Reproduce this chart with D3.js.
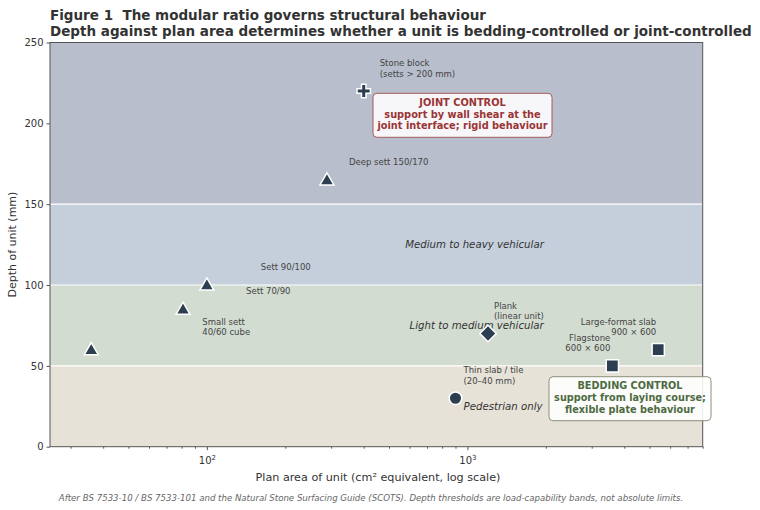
<!DOCTYPE html>
<html>
<head>
<meta charset="utf-8">
<script src="https://cdn.jsdelivr.net/npm/d3@7"></script>
<style>
  body { margin: 0; background: #fff; }
  svg { font-family: "DejaVu Sans", sans-serif; display: block; }
</style>
</head>
<body>
<div id="chart"></div>
<script>
// Units: plan area (cm² equivalent) against depth (mm)
const unitNames = ["Small sett", "Sett 70/90", "Sett 90/100", "Deep sett", "Stone block",
  "Plank", "Thin slab", "Flagstone", "Large-format slab"];
const planArea = [36, 81, 100, 289, 400, 1200, 900, 3600, 5400];
const depth = [60, 85, 100, 165, 220, 70, 30, 50, 60];
const unitShape = ["triangle", "triangle", "triangle", "triangle", "plus",
  "diamond", "circle", "square", "square"];
const unitLabel = [
  ["Small sett", "40/60 cube"],
  ["Sett 70/90"],
  ["Sett 90/100"],
  ["Deep sett 150/170"],
  ["Stone block", "(setts > 200 mm)"],
  ["Plank", "(linear unit)"],
  ["Thin slab / tile", "(20–40 mm)"],
  ["Flagstone", "600 × 600"],
  ["Large-format slab", "900 × 600"]
];

// Load-capability bands
const bandLow = [0, 50, 100, 150];
const bandHigh = [50, 100, 150, 250];
const bandName = ["Pedestrian only", "Light to medium vehicular", "Medium to heavy vehicular", ""];
const bandLabelArea = [1370, 1085, 1065, null];

const yTicks = [0, 50, 100, 150, 200, 250];
const xMajorTicks = [100, 1000];

const width = 760, height = 510;
const marginTop = 42.5, marginRight = 57.3, marginBottom = 63.3, marginLeft = 50;

const bandColor = ["#e6e2d7", "#d3dcd1", "#c4cfdb", "#b8becb"];
const markColor = "#2c3e50";

// label offsets from the marker, in pixels
const labelOffset = [
  [111, -25, "start"], [63, -15, "start"], [54, -15, "start"], [22, -14.5, "start"],
  [16, -25, "start"], [6, -25, "start"], [8, -25, "start"], [-2, -25, "end"], [-2, -25, "end"]
];

const x = d3.scaleLog([25, 8000], [marginLeft, width - marginRight]);
const y = d3.scaleLinear([0, 250], [height - marginBottom, marginTop]);

const svg = d3.select("#chart").append("svg")
    .attr("width", width)
    .attr("height", height)
    .attr("viewBox", [0, 0, width, height]);

// bands
svg.append("g")
  .selectAll("rect")
  .data(d3.range(bandLow.length))
  .join("rect")
    .attr("x", marginLeft)
    .attr("width", width - marginRight - marginLeft)
    .attr("y", i => y(bandHigh[i]))
    .attr("height", i => y(bandLow[i]) - y(bandHigh[i]))
    .attr("fill", i => bandColor[i]);

// band boundaries
svg.append("g")
  .selectAll("line")
  .data([50, 100, 150])
  .join("line")
    .attr("x1", marginLeft)
    .attr("x2", width - marginRight)
    .attr("y1", d => y(d))
    .attr("y2", d => y(d))
    .attr("stroke", "#fff")
    .attr("stroke-width", 1.2);

// band labels
svg.append("g")
  .selectAll("text")
  .data(d3.range(3))
  .join("text")
    .attr("x", i => x(bandLabelArea[i]))
    .attr("y", i => y((bandLow[i] + bandHigh[i]) / 2))
    .attr("dy", "0.35em")
    .attr("text-anchor", "middle")
    .attr("font-size", 10.2)
    .attr("font-style", "italic")
    .attr("fill", "#333")
    .text(i => bandName[i]);

// axes
const yAxis = d3.axisLeft(y).tickValues(yTicks).tickSizeOuter(0).tickSize(3.5).tickPadding(3);
svg.append("g")
    .attr("transform", `translate(${marginLeft},0)`)
    .call(yAxis)
    .call(g => g.select(".domain").remove())
    .call(g => g.selectAll("line").attr("stroke", "#555"))
    .call(g => g.selectAll("text").attr("font-size", 10).attr("fill", "#333")
      .attr("font-family", "DejaVu Sans"));

const minorTicks = [];
for (let e = 1; e <= 3; e++) {
  for (let m = 1; m <= 9; m++) {
    const v = m * Math.pow(10, e);
    if (v >= 25 && v <= 8000 && m !== 1) minorTicks.push(v);
  }
}
svg.append("g")
    .attr("transform", `translate(0,${height - marginBottom})`)
    .call(d3.axisBottom(x).tickValues(minorTicks).tickSize(2).tickFormat(""))
    .call(g => g.select(".domain").remove())
    .call(g => g.selectAll("line").attr("stroke", "#555"));

const xAxisG = svg.append("g")
    .attr("transform", `translate(0,${height - marginBottom})`)
    .call(d3.axisBottom(x).tickValues(xMajorTicks).tickSize(3.5).tickFormat(""))
    .call(g => g.select(".domain").remove())
    .call(g => g.selectAll("line").attr("stroke", "#555"));

xAxisG.selectAll(".tick").append("text")
    .attr("y", 17)
    .attr("text-anchor", "middle")
    .attr("font-size", 10)
    .attr("fill", "#333")
    .attr("font-family", "DejaVu Sans")
    .call(t => t.append("tspan").text("10"))
    .call(t => t.append("tspan")
      .attr("font-size", 7)
      .attr("dy", -4)
      .text(d => Math.log10(d) === 2 ? "2" : "3"));

// frame
svg.append("rect")
    .attr("x", marginLeft)
    .attr("y", marginTop)
    .attr("width", width - marginRight - marginLeft)
    .attr("height", height - marginBottom - marginTop)
    .attr("fill", "none")
    .attr("stroke", "#555")
    .attr("stroke-width", 1);

// markers
function symbolFor(shape) {
  if (shape === "triangle") return d3.symbol(d3.symbolTriangle, 85)();
  if (shape === "plus") return d3.symbol(d3.symbolCross, 100)();
  if (shape === "circle") return d3.symbol(d3.symbolCircle, 125)();
  if (shape === "diamond") return d3.symbol(d3.symbolSquare, 135)();
  return d3.symbol(d3.symbolSquare, 150)();
}

svg.append("g")
  .selectAll("path")
  .data(d3.range(planArea.length))
  .join("path")
    .attr("transform", i => `translate(${x(planArea[i])},${y(depth[i])})` +
      (unitShape[i] === "diamond" ? " rotate(45)" : "") +
      (unitShape[i] === "triangle" ? " translate(0,1)" : ""))
    .attr("d", i => symbolFor(unitShape[i]))
    .attr("fill", markColor)
    .attr("stroke", "#fff")
    .attr("stroke-width", 1.5);

// point labels
svg.append("g")
  .selectAll("text")
  .data(d3.range(planArea.length))
  .join("text")
    .attr("x", i => x(planArea[i]) + labelOffset[i][0])
    .attr("y", i => y(depth[i]) + labelOffset[i][1])
    .attr("text-anchor", i => labelOffset[i][2])
    .attr("font-size", 8.5)
    .attr("fill", "#444")
    .each(function(i) {
      const t = d3.select(this);
      const px = x(planArea[i]) + labelOffset[i][0];
      unitLabel[i].forEach((line, k) => {
        t.append("tspan").attr("x", px).attr("dy", k === 0 ? 0 : 10.6).text(line);
      });
    });

// callout boxes
function callout(cx, cy, w, h, lines, stroke, color, size) {
  const g = svg.append("g");
  g.append("rect")
    .attr("x", cx - w / 2).attr("y", cy - h / 2)
    .attr("width", w).attr("height", h)
    .attr("rx", 4)
    .attr("fill", "#fff").attr("fill-opacity", 0.88)
    .attr("stroke", stroke).attr("stroke-width", 1);
  g.selectAll("text")
    .data(lines)
    .join("text")
      .attr("x", cx)
      .attr("y", (d, k) => cy - 1 + (k - 1) * 11.6)
      .attr("dy", "0.35em")
      .attr("text-anchor", "middle")
      .attr("font-size", size)
      .attr("font-weight", "bold")
      .attr("fill", color)
      .text(d => d);
}

callout(462.5, 115.3, 179, 44,
  ["JOINT CONTROL", "support by wall shear at the", "joint interface; rigid behaviour"],
  "#a65a5a", "#9b3434", 9.8);
callout(630, 398.7, 162, 44,
  ["BEDDING CONTROL", "support from laying course;", "flexible plate behaviour"],
  "#8c907c", "#4d6a42", 9.7);

// titles
svg.append("text")
    .attr("x", 50).attr("y", 19.5)
    .attr("xml:space", "preserve")
    .style("white-space", "pre")
    .attr("font-size", 13.5).attr("font-weight", "bold").attr("fill", "#333")
    .text("Figure 1  The modular ratio governs structural behaviour");
svg.append("text")
    .attr("x", 50).attr("y", 36)
    .attr("font-size", 13.5).attr("font-weight", "bold").attr("fill", "#333")
    .text("Depth against plan area determines whether a unit is bedding-controlled or joint-controlled");

// axis labels
svg.append("text")
    .attr("x", 378)
    .attr("y", 480.5)
    .attr("text-anchor", "middle")
    .attr("font-size", 11.2)
    .attr("fill", "#333")
    .text("Plan area of unit (cm² equivalent, log scale)");

svg.append("text")
    .attr("transform", `translate(16,${(marginTop + height - marginBottom) / 2}) rotate(-90)`)
    .attr("text-anchor", "middle")
    .attr("font-size", 11)
    .attr("fill", "#333")
    .text("Depth of unit (mm)");

svg.append("text")
    .attr("x", 371)
    .attr("y", 500.5)
    .attr("text-anchor", "middle")
    .attr("font-size", 8.6)
    .attr("font-style", "italic")
    .attr("fill", "#666")
    .text("After BS 7533-10 / BS 7533-101 and the Natural Stone Surfacing Guide (SCOTS). Depth thresholds are load-capability bands, not absolute limits.");
</script>
</body>
</html>
